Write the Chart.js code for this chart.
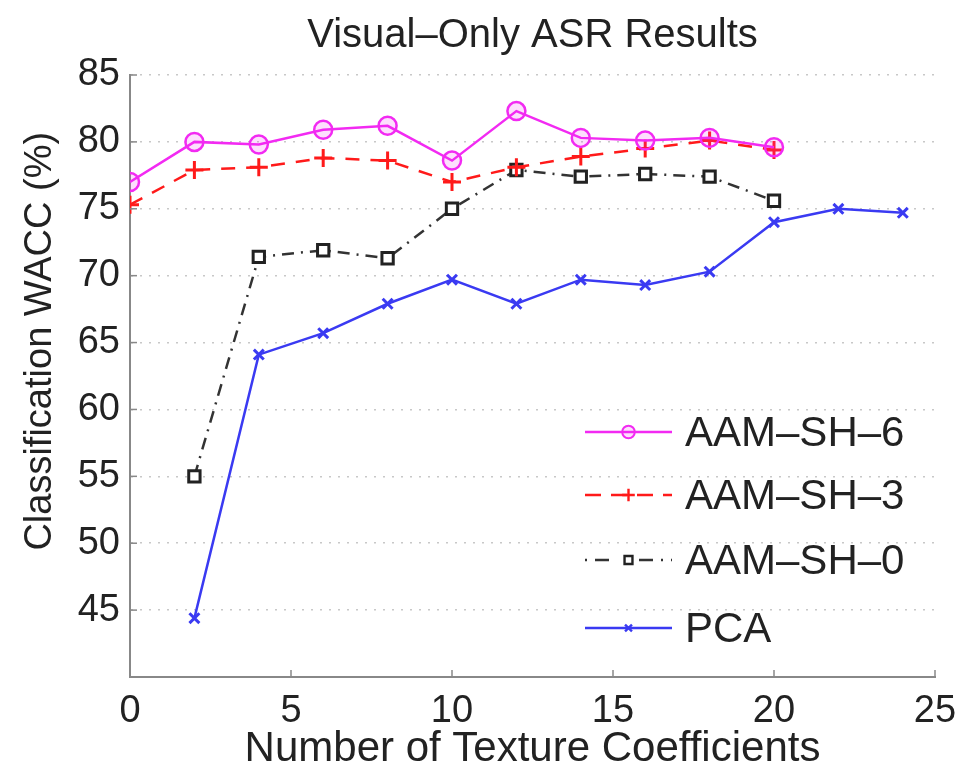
<!DOCTYPE html>
<html>
<head>
<meta charset="utf-8">
<script src="https://cdn.jsdelivr.net/npm/chart.js@4.4.1/dist/chart.umd.min.js"></script>
<style>
	html, body { margin: 0; padding: 0; background: #fff; }
	#wrap { width: 963px; height: 775px; }
</style>
</head>
<body>
<div id="wrap"><canvas id="chart" width="963" height="775"></canvas></div>
<script>
// Data
const xAll = [0, 2, 4, 6, 8, 10, 12, 14, 16, 18, 20];
const sh6Values = [77.0, 80.0, 79.8, 80.9, 81.2, 78.6, 82.3, 80.3, 80.1, 80.3, 79.6];
const sh3Values = [75.3, 77.9, 78.1, 78.8, 78.6, 77.0, 78.1, 78.9, 79.5, 80.1, 79.4];
const xSh0 = [2, 4, 6, 8, 10, 12, 14, 16, 18, 20];
const sh0Values = [55.0, 71.4, 71.9, 71.3, 75.0, 77.9, 77.4, 77.6, 77.4, 75.6];
const xPca = [2, 4, 6, 8, 10, 12, 14, 16, 18, 20, 22, 24];
const pcaValues = [44.4, 64.1, 65.7, 67.9, 69.7, 67.9, 69.7, 69.3, 70.3, 74.0, 75.0, 74.7];
const seriesLabels = ["AAM\u2013SH\u20136", "AAM\u2013SH\u20133", "AAM\u2013SH\u20130", "PCA"];
const xTicks = [0, 5, 10, 15, 20, 25];
const yTicks = [45, 50, 55, 60, 65, 70, 75, 80, 85];
const yTitle = "Classification WACC (%)";

const textColor = "#222";
const fontFamily = "'Liberation Sans', Arial, Helvetica, sans-serif";

function toPoints(xs, ys) {
	return xs.map(function (x, i) { return { x: x, y: ys[i] }; });
}

// Legend drawn inside the plot area, bottom right (like MATLAB)
const insideLegend = {
	id: "insideLegend",
	afterDatasetsDraw(chart) {
		const ctx = chart.ctx;
		const area = chart.chartArea;
		const x0 = area.left + 455, x1 = area.left + 542, tx = area.left + 555;
		const rows = [432, 495, 560, 628];
		chart.data.datasets.forEach(function (ds, i) {
			const y = rows[i];
			ctx.save();
			ctx.strokeStyle = ds.borderColor;
			ctx.lineWidth = ds.borderWidth;
			ctx.setLineDash(ds.legendDash || ds.borderDash || []);
			ctx.beginPath();
			ctx.moveTo(x0, y);
			ctx.lineTo(x1, y);
			ctx.stroke();
			ctx.setLineDash([]);
			ctx.strokeStyle = ds.pointBorderColor;
			ctx.fillStyle = ds.pointBackgroundColor || ds.pointBorderColor;
			ctx.lineWidth = ds.pointBorderWidth * 0.8;
			Chart.helpers.drawPoint(ctx, {
				pointStyle: ds.pointStyle,
				radius: ds.pointRadius * 0.7,
				borderWidth: ds.pointBorderWidth * 0.8
			}, (x0 + x1) / 2, y);
			ctx.fillStyle = textColor;
			ctx.font = "42px " + fontFamily;
			ctx.textBaseline = "middle";
			ctx.textAlign = "left";
			ctx.fillText(ds.label, tx, y + 2);
			ctx.restore();
		});
	}
};

// Inward tick marks and the y axis title (placed as in the reference)
const axisExtras = {
	id: "axisExtras",
	afterDraw(chart) {
		const ctx = chart.ctx;
		const xs = chart.scales.x, ys = chart.scales.y;
		ctx.save();
		ctx.strokeStyle = "#888";
		ctx.lineWidth = 1.5;
		xTicks.forEach(function (v) {
			const px = xs.getPixelForValue(v);
			ctx.beginPath();
			ctx.moveTo(px, ys.bottom);
			ctx.lineTo(px, ys.bottom - 7);
			ctx.stroke();
		});
		yTicks.forEach(function (v) {
			const py = ys.getPixelForValue(v);
			ctx.beginPath();
			ctx.moveTo(xs.left, py);
			ctx.lineTo(xs.left + 7, py);
			ctx.stroke();
		});
		ctx.translate(41, ys.getPixelForValue(65.1));
		ctx.rotate(-Math.PI / 2);
		ctx.fillStyle = textColor;
		ctx.font = "38px " + fontFamily;
		ctx.textAlign = "center";
		ctx.textBaseline = "middle";
		ctx.fillText(yTitle, 0, 0);
		ctx.restore();
	}
};

const ctx = document.getElementById("chart").getContext("2d");
new Chart(ctx, {
	type: "line",
	data: {
		datasets: [
			{
				label: seriesLabels[0],
				data: toPoints(xAll, sh6Values),
				borderColor: "#f22af2",
				backgroundColor: "rgba(242,42,242,0.12)",
				borderWidth: 2.5,
				pointStyle: "circle",
				pointRadius: 9,
				pointBorderWidth: 2.5,
				pointBackgroundColor: "rgba(242,42,242,0.15)",
				pointBorderColor: "#f22af2"
			},
			{
				label: seriesLabels[1],
				data: toPoints(xAll, sh3Values),
				borderColor: "#ff1a1a",
				backgroundColor: "#ff1a1a",
				borderWidth: 2.5,
				borderDash: [14, 11],
				legendDash: [16, 10],
				pointStyle: "cross",
				pointRadius: 9,
				pointBorderWidth: 3,
				pointBackgroundColor: "#ff1a1a",
				pointBorderColor: "#ff1a1a"
			},
			{
				label: seriesLabels[2],
				data: toPoints(xSh0, sh0Values),
				borderColor: "#333",
				backgroundColor: "#fff",
				borderWidth: 2.5,
				borderDash: [12, 7, 2, 7],
				legendDash: [2, 8, 14, 30, 14, 8],
				pointStyle: "rect",
				pointRadius: 8,
				pointBorderWidth: 3,
				pointBackgroundColor: "#fff",
				pointBorderColor: "#222"
			},
			{
				label: seriesLabels[3],
				data: toPoints(xPca, pcaValues),
				borderColor: "#3a3af2",
				backgroundColor: "#3a3af2",
				borderWidth: 2.5,
				pointStyle: "crossRot",
				pointRadius: 7,
				pointBorderWidth: 3,
				pointBackgroundColor: "#3a3af2",
				pointBorderColor: "#3a3af2"
			}
		]
	},
	options: {
		responsive: false,
		animation: false,
		layout: { padding: { left: 0, right: 28, top: 0, bottom: 0 } },
		plugins: {
			legend: { display: false },
			tooltip: { enabled: false },
			title: {
				display: true,
				fullSize: false,
				text: "Visual\u2013Only ASR Results",
				color: textColor,
				font: { family: fontFamily, size: 40, weight: "normal" },
				padding: { top: 12, bottom: 15 }
			}
		},
		scales: {
			x: {
				type: "linear",
				min: 0,
				max: 25,
				afterBuildTicks: function (scale) {
					scale.ticks = xTicks.map(function (v) { return { value: v }; });
				},
				afterFit: function (scale) { scale.height = 98; },
				grid: { display: false },
				border: { display: true, color: "#888", width: 2 },
				ticks: {
					color: textColor,
					font: { family: fontFamily, size: 38 },
					padding: 4,
					maxRotation: 0
				},
				title: {
					display: true,
					text: "Number of Texture Coefficients",
					color: textColor,
					font: { family: fontFamily, size: 42 },
					padding: { top: 0, bottom: 0 }
				}
			},
			y: {
				type: "linear",
				min: 40,
				max: 85,
				afterBuildTicks: function (scale) {
					scale.ticks = yTicks.map(function (v) { return { value: v }; });
				},
				afterFit: function (scale) { scale.width = 130; },
				grid: {
					display: true,
					drawTicks: false,
					color: "#c8c8c8",
					lineWidth: 1.5
				},
				border: { display: true, color: "#888", width: 2, dash: [2, 7] },
				ticks: {
					color: textColor,
					font: { family: fontFamily, size: 38 },
					padding: 10
				}
			}
		}
	},
	plugins: [insideLegend, axisExtras]
});
</script>
</body>
</html>
